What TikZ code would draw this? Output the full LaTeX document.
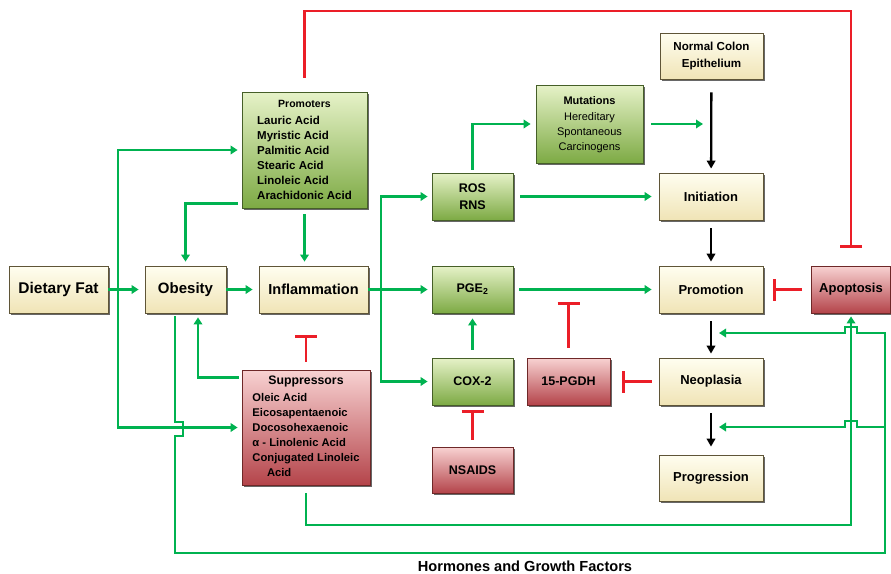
\documentclass[tikz,border=0pt]{standalone}
\usepackage{fontspec}
\setmainfont{Liberation Sans}
\usetikzlibrary{arrows.meta,shadows}
\definecolor{gline}{RGB}{0,178,80}
\definecolor{rline}{RGB}{235,30,40}
\definecolor{creamT}{RGB}{255,254,240}
\definecolor{creamB}{RGB}{240,228,182}
\definecolor{creamD}{RGB}{95,85,55}
\definecolor{greenT}{RGB}{230,242,200}
\definecolor{greenB}{RGB}{125,170,68}
\definecolor{greenD}{RGB}{70,95,40}
\definecolor{redT}{RGB}{248,210,210}
\definecolor{redB}{RGB}{180,68,74}
\definecolor{redD}{RGB}{110,40,40}
\newcommand\fsz[1]{\fontsize{#1}{#1}\selectfont}
\tikzset{
  base/.style={rectangle, inner sep=0pt, line width=0.8pt,
    drop shadow={shadow xshift=2pt,shadow yshift=-2pt,fill=black!70,opacity=0.85}},
  cream/.style={base, draw=creamD, top color=creamT, bottom color=creamB},
  greenbox/.style={base, draw=greenD, top color=greenT, bottom color=greenB},
  redbox/.style={base, draw=redD, top color=redT, bottom color=redB},
  sz/.style 2 args={minimum width=#1pt, minimum height=#2pt},
  ga/.style={draw=gline, line width=2.8pt, -{Triangle[length=7pt,width=8.5pt]}},
  gl/.style={draw=gline, line width=2.8pt},
  rt/.style={draw=rline, line width=2.7pt, -{Bar[width=22pt]}},
  ba/.style={draw=black, line width=2.3pt, -{Triangle[length=8pt,width=8.5pt]}},
}
\begin{document}
\begin{tikzpicture}[x=1pt,y=-1pt]
\useasboundingbox (0,0) rectangle (891,573);
% nodes
\node[cream, sz={99}{47}, font={\fsz{15.5}\bfseries}] (diet) at (58.5,289.5) {Dietary Fat};
\node[cream, sz={81}{47}, font={\fsz{15}\bfseries}] (obes) at (185.5,289.5) {Obesity};
\node[cream, sz={109}{47}, font={\fsz{14.5}\bfseries}] (infl) at (313.5,289.5) {Inflammation};
\node[greenbox, sz={125}{116}, font={\fontsize{11.5}{15}\selectfont\bfseries}] (prom) at (304.5,150)
 {\begin{tabular}{@{}l@{}}\multicolumn{1}{@{}c@{}}{\fontsize{10.5}{15}\selectfont Promoters}\\[2pt]Lauric Acid\\Myristic Acid\\Palmitic Acid\\Stearic Acid\\Linoleic Acid\\Arachidonic Acid\end{tabular}};
\node[redbox, sz={128}{115}, font={\fontsize{11.2}{15}\selectfont\bfseries}] (supp) at (306,427.5)
 {\begin{tabular}{@{}l@{}}\multicolumn{1}{@{}c@{}}{\fontsize{12.3}{15}\selectfont Suppressors}\\[2pt]Oleic Acid\\Eicosapentaenoic\\Docosohexaenoic\\α - Linolenic Acid\\Conjugated Linoleic\\\hspace{1.3em}Acid\end{tabular}};
\node[greenbox, sz={81}{47}, font={\fontsize{12.5}{17}\selectfont\bfseries}, align=center] (ros) at (472.5,196.5) {ROS\\RNS};
\node[greenbox, sz={81}{47}, font={\fsz{12.5}\bfseries}] (pge) at (472.5,289.5) {PGE\textsubscript{2}};
\node[greenbox, sz={81}{47}, font={\fsz{12.5}\bfseries}] (cox) at (472.5,381.5) {COX-2};
\node[redbox, sz={83}{47}, font={\fsz{12.5}\bfseries}] (pgdh) at (568.5,381.5) {15-PGDH};
\node[redbox, sz={81}{46}, font={\fsz{12.5}\bfseries}] (nsaid) at (472.5,470) {NSAIDS};
\node[greenbox, sz={107}{78}, font={\fontsize{11}{15}\selectfont}] (mut) at (589.5,124)
 {\begin{tabular}{@{}c@{}}\textbf{Mutations}\\[1pt]Hereditary\\Spontaneous\\Carcinogens\end{tabular}};
\node[cream, sz={103}{46}, font={\fontsize{11.6}{17}\selectfont\bfseries}, align=center] (nce) at (711.5,56) {Normal Colon\\Epithelium};
\node[cream, sz={104}{47}, font={\fsz{13}\bfseries}] (init) at (711,196.5) {Initiation};
\node[cream, sz={104}{47}, font={\fsz{13}\bfseries}] (promo) at (711,289.5) {Promotion};
\node[cream, sz={104}{47}, font={\fsz{13}\bfseries}] (neo) at (711,381.5) {Neoplasia};
\node[cream, sz={104}{46}, font={\fsz{13}\bfseries}] (prog) at (711,478) {Progression};
\node[redbox, sz={79}{47}, font={\fsz{13}\bfseries}] (apop) at (851,289.5) {Apoptosis};
\node[font={\fsz{14.6}\bfseries}] (hgf) at (525,566) {Hormones and Growth Factors};
% coordinates
\coordinate (j1) at (118,289.5);
\coordinate (j2) at (381,289.5);
\coordinate (mj) at (703,124);
\coordinate (pgt) at (568.5,302);
\coordinate (topy) at (0,11);
\coordinate (boty) at (0,525);
\coordinate (ha1) at (719,333);
\coordinate (ha2) at (719,427);
% green connectors
\draw[ga, shorten >=6pt] (diet) -- (obes);
\draw[ga, shorten >=4pt] (j1) |- (prom.west);
\draw[ga, shorten >=4pt] (j1) |- (supp.west);
\draw[ga, shorten <=4pt, shorten >=4pt] ([yshift=5pt]prom.south west) -| (obes.north);
\draw[ga, shorten <=6pt, shorten >=4pt] (prom.south) -- (prom.south |- infl.north);
\draw[ga, shorten <=3pt, shorten >=4pt] ([yshift=-8pt]supp.north west) -| ([xshift=12.5pt]obes.south);
\draw[ga, shorten >=6pt] (obes) -- (infl);
\draw[gl] (infl.east) -- (j2);
\draw[ga, shorten >=4pt] (j2) |- (ros.west);
\draw[ga, shorten >=4pt] (j2) -- (pge.west);
\draw[ga, shorten >=4pt] (j2) |- (cox.west);
\draw[ga, shorten <=3pt, shorten >=5pt] (ros.north) |- (mut.west);
\draw[ga, shorten <=7pt, shorten >=7pt] (ros) -- (init);
\draw[ga, shorten <=8pt] (mut.east) -- (mj);
\draw[ga, shorten <=6pt, shorten >=7pt] (pge) -- (promo);
\draw[ga, shorten <=8pt, shorten >=5pt] (cox) -- (pge);
\draw[ga, shorten <=8pt, shorten >=3pt] (supp.south) |- (apop.south |- boty) -- (apop.south);
\draw[ga] ([xshift=-10.5pt,yshift=-3pt]obes.south) -- (175,422) -- (183,422) -- (183,436) -- (175,436)
  -- (175,553) -- (885,553) -- (885,333) -- (857,333) -- (857,327) -- (845,327) -- (845,333) -- (ha1);
\draw[ga] (885,427) -- (857,427) -- (857,421) -- (845,421) -- (845,427) -- (ha2);
% black connectors
\draw[ba, shorten <=13pt, shorten >=4pt] (nce) -- (init);
\draw[ba, shorten <=8pt, shorten >=4pt] (init) -- (promo);
\draw[ba, shorten <=8pt, shorten >=4pt] (promo) -- (neo);
\draw[ba, shorten <=8pt, shorten >=8pt] (neo) -- (prog);
% red inhibitions
\draw[rt, shorten <=8pt, shorten >=22pt] (supp.north) -- (supp.north |- infl.south);
\draw[rt, shorten <=7pt, shorten >=5pt] (nsaid) -- (cox);
\draw[rt, shorten <=10pt] (pgdh.north) -- (pgt);
\draw[rt, shorten <=7pt, shorten >=12pt] (neo) -- (pgdh);
\draw[rt, shorten <=9pt, shorten >=10pt] (apop) -- (promo);
\draw[rt, shorten <=14pt, shorten >=18pt] (prom.north) |- (apop.north |- topy) -- (apop.north);
\end{tikzpicture}
\end{document}
